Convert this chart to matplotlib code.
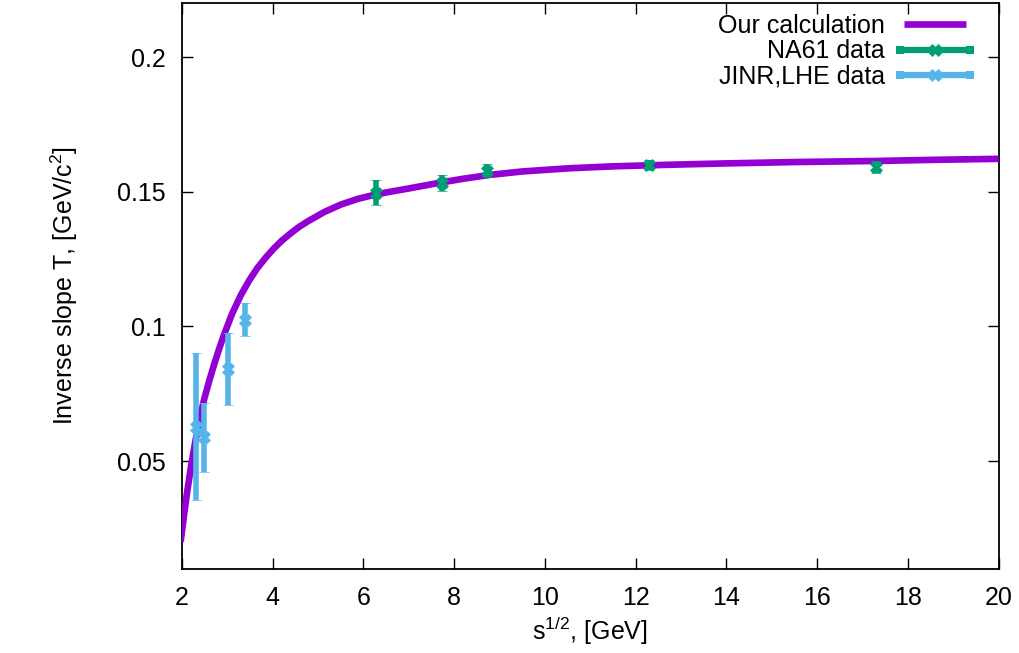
import matplotlib
matplotlib.use("Agg")
import matplotlib.pyplot as plt
from matplotlib.lines import Line2D
from matplotlib.legend_handler import HandlerBase

plt.rcParams['font.family'] = ['Liberation Sans', 'DejaVu Sans']
plt.rcParams['mathtext.fontset'] = 'custom'
plt.rcParams['mathtext.rm'] = 'Liberation Sans'

# Theory curve
curve_x = [1.97, 2.05, 2.12, 2.2, 2.3, 2.4, 2.485, 2.6, 2.706, 2.82, 2.93, 3.1, 3.295,
           3.48, 3.66, 3.85, 4.03, 4.2, 4.40, 4.58, 4.765, 5.13, 5.50, 5.87, 6.16,
           6.5, 7.0, 7.74, 8.2, 8.77, 9.5, 10.54, 11.5, 12.74, 14.0, 15.5, 17.3,
           18.5, 20.0]
curve_y = [0.0200, 0.0305, 0.0392, 0.0480, 0.0578, 0.0660, 0.0727, 0.0797, 0.0857,
           0.0917, 0.0970, 0.1045, 0.1115, 0.1170, 0.1216, 0.1256, 0.1290, 0.1318,
           0.1346, 0.1369, 0.1389, 0.1424, 0.1452, 0.1473, 0.1485, 0.1497, 0.1512,
           0.1535, 0.1548, 0.1562, 0.1575, 0.1587, 0.1594, 0.1600, 0.1605, 0.1610,
           0.1614, 0.1618, 0.1622]

# NA61 data
na61_x = [6.27, 7.74, 8.73, 12.3, 17.3]
na61_y = [0.1496, 0.1533, 0.1578, 0.1600, 0.1593]
na61_err = [0.0047, 0.0030, 0.0025, 0.0018, 0.0022]

# JINR, LHE data
jinr_x = [2.30, 2.48, 3.01, 3.40]
jinr_y = [0.0628, 0.0590, 0.0842, 0.1022]
jinr_lo = [0.0273, 0.0130, 0.0134, 0.0057]
jinr_hi = [0.0273, 0.0124, 0.0134, 0.0066]

labels = ['Our calculation', 'NA61 data', 'JINR,LHE data']

purple = '#9400D3'
green = '#009E73'
blue = '#56B4E9'

FS = 18

fig = plt.figure(figsize=(10.2, 6.53), dpi=100)
ax = fig.add_axes([0.1784, 0.1286, 0.8006, 0.867])

line, = ax.plot(curve_x, curve_y, color=purple, lw=4.8, zorder=3,
                solid_capstyle='butt')
eb_kw = dict(lw=4, elinewidth=4, capsize=3.5, capthick=4, marker='X', ms=8,
             mew=0.5, ls='none', zorder=4)
ax.errorbar(na61_x, na61_y, yerr=na61_err, color=green, mec=green, **eb_kw)
ax.errorbar(jinr_x, jinr_y, yerr=[jinr_lo, jinr_hi], color=blue, mec=blue, **eb_kw)

ax.set_xlim(2, 20)
ax.set_ylim(0.0099, 0.2201)
ax.set_xticks(range(2, 21, 2))
ax.set_yticks([0.05, 0.1, 0.15, 0.2])
ax.set_yticklabels(['0.05', '0.1', '0.15', '0.2'])
ax.tick_params(direction='in', length=8, width=1, top=True, right=True,
               labelsize=FS, pad=12)
for s in ax.spines.values():
    s.set_linewidth(1.3)

ax.set_xlabel('s$^{1/2}$, [GeV]', fontsize=FS, labelpad=4)
ax.set_ylabel('Inverse slope T, [GeV/c$^2$]', fontsize=FS, labelpad=26)


class LineHandler(HandlerBase):
    def create_artists(self, legend, orig, xd, yd, w, h, fontsize, trans):
        y = h / 2 - yd
        ln = Line2D([-xd + 5, -xd + w - 5], [y, y], color=orig.get_color(),
                    lw=4.8, solid_capstyle='butt', transform=trans)
        return [ln]


class ErrHandler(HandlerBase):
    def create_artists(self, legend, orig, xd, yd, w, h, fontsize, trans):
        c = orig.get_color()
        y = h / 2 - yd
        x0, x1 = -xd, -xd + w
        ln = Line2D([x0, x1], [y, y], color=c, lw=4.5, solid_capstyle='butt',
                    transform=trans)
        caps = Line2D([x0 + 2, x1 - 2], [y, y], color=c, ls='none', marker='s',
                      ms=5.5, mew=0, transform=trans)
        mk = Line2D([(x0 + x1) / 2], [y], color=c, ls='none', marker='X', ms=8,
                    mew=0.5, transform=trans)
        return [ln, caps, mk]


h_line = Line2D([], [], color=purple)
h_green = Line2D([], [], color=green)
h_blue = Line2D([], [], color=blue)
leg = ax.legend([h_line, h_green, h_blue], labels, loc='upper right',
                frameon=False, markerfirst=False, fontsize=FS,
                handlelength=3.0, labelspacing=0.05, handletextpad=0.5,
                borderpad=0, borderaxespad=0,
                bbox_to_anchor=(0.968, 0.980),
                handler_map={h_line: LineHandler(), h_green: ErrHandler(),
                             h_blue: ErrHandler()})

fig.savefig('out.png', dpi=100)
